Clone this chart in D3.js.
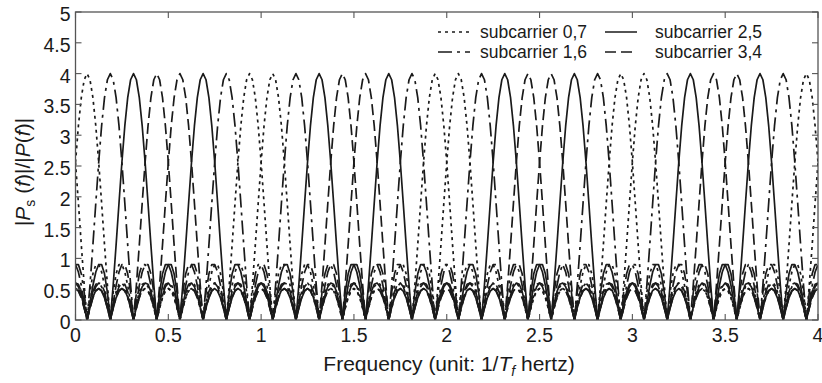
<!DOCTYPE html>
<html>
<head>
<meta charset="utf-8">
<script src="https://cdn.jsdelivr.net/npm/d3@7"></script>
<style>
  html, body { margin: 0; padding: 0; background: #fff; }
  svg { display: block; font-family: "Liberation Sans", Arial, Helvetica, sans-serif; }
</style>
</head>
<body>
<svg id="chart" width="822" height="383"></svg>
<script>
// ---------------- data ----------------
const xTicks = [0, 0.5, 1, 1.5, 2, 2.5, 3, 3.5, 4];
const yTicks = [0, 0.5, 1, 1.5, 2, 2.5, 3, 3.5, 4, 4.5, 5];
const xTickLabels = ["0", "0.5", "1", "1.5", "2", "2.5", "3", "3.5", "4"];
const yTickLabels = ["0", "0.5", "1", "1.5", "2", "2.5", "3", "3.5", "4", "4.5", "5"];

// one period (width 1) of the |Ps(f)|/|P(f)| response of a single subcarrier,
// sampled every 1/64, starting at its peak
const kernelStep = 1 / 64;
const kernel = [
  4.00, 3.90, 3.61, 3.15, 2.56, 1.90, 1.22, 0.57, 0.00,
  0.45, 0.75, 0.90, 0.90, 0.78, 0.56, 0.28, 0.00,
  0.26, 0.46, 0.58, 0.60, 0.54, 0.40, 0.21, 0.00,
  0.20, 0.37, 0.48, 0.51, 0.47, 0.36, 0.19, 0.00,
  0.19, 0.36, 0.47, 0.51, 0.48, 0.37, 0.20, 0.00,
  0.21, 0.40, 0.54, 0.60, 0.58, 0.46, 0.26, 0.00,
  0.28, 0.56, 0.78, 0.90, 0.90, 0.75, 0.45, 0.00,
  0.57, 1.22, 1.90, 2.56, 3.15, 3.61, 3.90
];

// peak frequency (unit 1/Tf) of each subcarrier
const subcarriers = [0, 1, 2, 3, 4, 5, 6, 7];
const peakFreqs = [0.0625, 0.1875, 0.3125, 0.4375, 0.5625, 0.6875, 0.8125, 0.9375];

// legend groups
const groupNames = ["subcarrier 0,7", "subcarrier 1,6", "subcarrier 2,5", "subcarrier 3,4"];
const groupMembers = [[0, 7], [1, 6], [2, 5], [3, 4]];
const groupDash = ["3,4", "14,5,3,5", null, "11,5"];

const xDomain = [0, 4];
const yDomain = [0, 5];

// ---------------- layout ----------------
const svg = d3.select("#chart");
const L = 75.5, R = 818, T = 12, B = 320;
const x = d3.scaleLinear().domain(xDomain).range([L, R]);
const y = d3.scaleLinear().domain(yDomain).range([B, T]);
const ink = "#1a1a1a";
const frameColor = "#555";

// curves
const nSamples = Math.round((xDomain[1] - xDomain[0]) / kernelStep);
function seriesFor(sc) {
  const shift = Math.round(peakFreqs[sc] / kernelStep);
  const pts = [];
  for (let i = 0; i <= nSamples; i++) {
    const idx = (((i - shift) % kernel.length) + kernel.length) % kernel.length;
    pts.push([i * kernelStep, kernel[idx]]);
  }
  return pts;
}
const line = d3.line().x(d => x(d[0])).y(d => y(d[1])).curve(d3.curveLinear);

svg.append("clipPath").attr("id", "clip")
  .append("rect").attr("x", L).attr("y", T).attr("width", R - L).attr("height", B - T);

const gCurves = svg.append("g").attr("clip-path", "url(#clip)");
groupMembers.forEach((members, gi) => {
  members.forEach(sc => {
    gCurves.append("path")
      .attr("d", line(seriesFor(sc)))
      .attr("fill", "none")
      .attr("stroke", ink)
      .attr("stroke-width", 1.7)
      .attr("stroke-dasharray", groupDash[gi])
      .attr("stroke-linejoin", "round");
  });
});

// frame
svg.append("rect").attr("x", L).attr("y", T).attr("width", R - L).attr("height", B - T)
  .attr("fill", "none").attr("stroke", frameColor).attr("stroke-width", 1.3);

// ticks (inside, both sides)
const tl = 6;
const gAxes = svg.append("g").attr("stroke", frameColor).attr("stroke-width", 1.1);
xTicks.forEach(v => {
  gAxes.append("line").attr("x1", x(v)).attr("x2", x(v)).attr("y1", B).attr("y2", B - tl);
  gAxes.append("line").attr("x1", x(v)).attr("x2", x(v)).attr("y1", T).attr("y2", T + tl);
});
yTicks.forEach(v => {
  gAxes.append("line").attr("x1", L).attr("x2", L + tl).attr("y1", y(v)).attr("y2", y(v));
  gAxes.append("line").attr("x1", R).attr("x2", R - tl).attr("y1", y(v)).attr("y2", y(v));
});

// tick labels
const tickFont = 19.5;
xTicks.forEach((v, i) => {
  svg.append("text").attr("x", x(v)).attr("y", B + 22).attr("text-anchor", "middle")
    .attr("font-size", tickFont).attr("fill", ink).text(xTickLabels[i]);
});
yTicks.forEach((v, i) => {
  svg.append("text").attr("x", L - 5).attr("y", y(v) + 9).attr("text-anchor", "end")
    .attr("font-size", tickFont).attr("fill", ink).text(yTickLabels[i]);
});

// x label
const xl = svg.append("text").attr("x", 449).attr("y", 371).attr("text-anchor", "middle")
  .attr("font-size", 21).attr("fill", ink);
xl.append("tspan").text("Frequency (unit: 1/");
xl.append("tspan").attr("font-style", "italic").text("T");
xl.append("tspan").attr("font-style", "italic").attr("font-size", 14).attr("dy", 5).text("f");
xl.append("tspan").attr("dy", -5).text(" hertz)");

// y label
const yl = svg.append("text").attr("transform", "translate(30,172) rotate(-90)")
  .attr("text-anchor", "middle").attr("font-size", 21).attr("fill", ink);
yl.append("tspan").text("|");
yl.append("tspan").attr("font-style", "italic").text("P");
yl.append("tspan").attr("font-size", 14).attr("dy", 5).text("s");
yl.append("tspan").attr("dy", -5).text(" (");
yl.append("tspan").attr("font-style", "italic").text("f");
yl.append("tspan").text(")|/|");
yl.append("tspan").attr("font-style", "italic").text("P");
yl.append("tspan").text("(");
yl.append("tspan").attr("font-style", "italic").text("f");
yl.append("tspan").text(")|");

// legend
const legendFont = 17.5;
const legendPos = [
  { sx: 438, tx: 480, y: 38 },   // 0,7
  { sx: 438, tx: 480, y: 58 },   // 1,6
  { sx: 605, tx: 655, y: 38 },   // 2,5
  { sx: 605, tx: 655, y: 58 }    // 3,4
];
groupNames.forEach((name, gi) => {
  const p = legendPos[gi];
  svg.append("line").attr("x1", p.sx).attr("x2", p.sx + 32).attr("y1", p.y - 6).attr("y2", p.y - 6)
    .attr("stroke", ink).attr("stroke-width", 1.5).attr("stroke-dasharray", groupDash[gi]);
  svg.append("text").attr("x", p.tx).attr("y", p.y).attr("font-size", legendFont)
    .attr("fill", ink).text(name);
});
</script>
</body>
</html>
